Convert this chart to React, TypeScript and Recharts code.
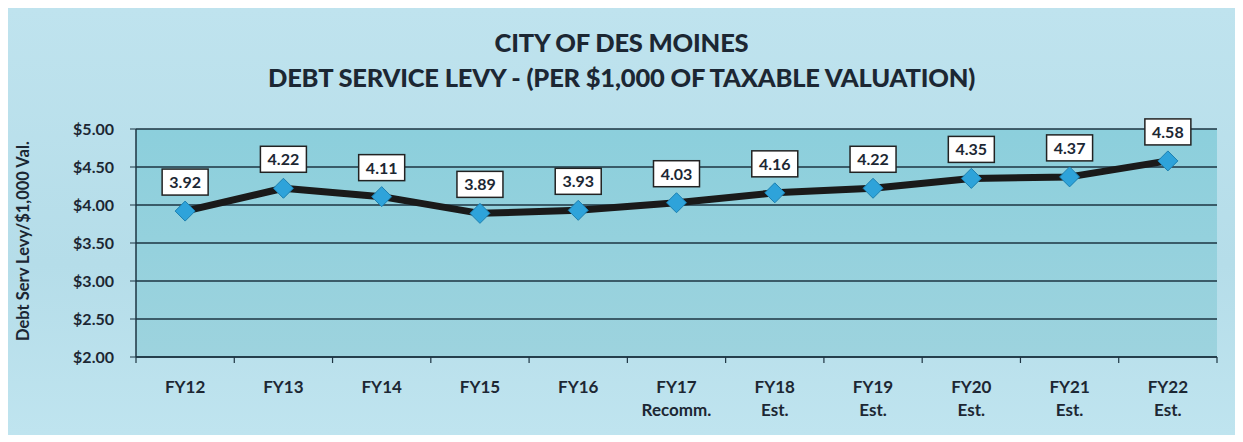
import { LineChart, Line, XAxis, YAxis, CartesianGrid, LabelList } from 'recharts';

const years = ['FY12', 'FY13', 'FY14', 'FY15', 'FY16', 'FY17', 'FY18', 'FY19', 'FY20', 'FY21', 'FY22'];
const subLabels = ['', '', '', '', '', 'Recomm.', 'Est.', 'Est.', 'Est.', 'Est.', 'Est.'];
const levy = [3.92, 4.22, 4.11, 3.89, 3.93, 4.03, 4.16, 4.22, 4.35, 4.37, 4.58];
const yTicks = [2, 2.5, 3, 3.5, 4, 4.5, 5];

const data = years.map((y, i) => ({ year: y, sub: subLabels[i], levy: levy[i] }));

const FONT = 'Lato, "Open Sans", sans-serif';
const INK = '#1c2733';
const AXIS = '#1d3442';

const CHART_W = 1227;
const MARGIN_L = 68;
const MARGIN_R = 18;
const Y_W = 60;
const HALF_STEP = (CHART_W - MARGIN_L - MARGIN_R - Y_W) / years.length / 2;

const XTick = (props: any) => {
  const { x, y, payload, index } = props;
  const last = index === years.length - 1;
  return (
    <g>
      <line x1={x - HALF_STEP} x2={x - HALF_STEP} y1={y - 8} y2={y - 2} stroke={AXIS} strokeWidth={1.2} />
      {last ? <line x1={x + HALF_STEP} x2={x + HALF_STEP} y1={y - 8} y2={y - 2} stroke={AXIS} strokeWidth={1.2} /> : null}
      <text x={x} y={y + 28} textAnchor="middle" fontFamily={FONT} fontWeight={700} fontSize={17} fill={INK}>
        <tspan x={x} dy={0}>{payload.value}</tspan>
        {subLabels[index] ? <tspan x={x} dy={23}>{subLabels[index]}</tspan> : null}
      </text>
    </g>
  );
};

const Diamond = (props: any) => {
  const { cx, cy } = props;
  if (cx == null || cy == null) return null;
  const r = 10;
  return (
    <path
      d={`M${cx},${cy - r} L${cx + r},${cy} L${cx},${cy + r} L${cx - r},${cy} Z`}
      fill="#2ea3da"
      stroke="#1b7fb0"
      strokeWidth={1}
    />
  );
};

const ValueBox = (props: any) => {
  const { x, y, value } = props;
  const w = 46;
  const h = 26;
  const top = y - 42;
  return (
    <g>
      <rect x={x - w / 2} y={top} width={w} height={h} fill="#ffffff" stroke="#222" strokeWidth={1.5} />
      <text x={x} y={top + 19} textAnchor="middle" fontFamily={FONT} fontWeight={700} fontSize={16} fill={INK}>
        {value.toFixed(2)}
      </text>
    </g>
  );
};

export default function App() {
  return (
    <div
      style={{
        width: CHART_W,
        height: 427,
        background: 'linear-gradient(180deg, #bfe3ee 0%, #b5dde9 60%, #bfe4ef 100%)',
        position: 'relative',
        fontFamily: FONT,
      }}
    >
      <div
        style={{
          position: 'absolute',
          top: 17,
          left: 0,
          width: CHART_W,
          textAlign: 'center',
          fontWeight: 900,
          fontSize: 25.5,
          lineHeight: '35px',
          color: INK,
          letterSpacing: -0.2,
        }}
      >
        <div>CITY OF DES MOINES</div>
        <div>DEBT SERVICE LEVY - (PER $1,000 OF TAXABLE VALUATION)</div>
      </div>
      <div style={{ position: 'absolute', left: 15, top: 233, width: 0, height: 0 }}>
        <div
          style={{
            position: 'absolute',
            left: 0,
            top: 0,
            transform: 'translate(-50%, -50%) rotate(-90deg)',
            whiteSpace: 'nowrap',
            fontWeight: 700,
            fontSize: 16.5,
            color: INK,
          }}
        >
          Debt Serv Levy/$1,000 Val.
        </div>
      </div>
      <LineChart
        width={CHART_W}
        height={427}
        data={data}
        margin={{ top: 121, right: MARGIN_R, bottom: 10, left: MARGIN_L }}
        style={{ position: 'absolute', left: 0, top: 0 }}
      >
        <defs>
          <linearGradient id="plotBg" x1="0" y1="0" x2="0" y2="1">
            <stop offset="0%" stopColor="#8ccfdc" />
            <stop offset="100%" stopColor="#9dd3de" />
          </linearGradient>
        </defs>
        <CartesianGrid vertical={false} stroke={AXIS} strokeWidth={1.5} fill="url(#plotBg)" fillOpacity={1} />
        <XAxis
          dataKey="year"
          height={68}
          tick={<XTick />}
          tickLine={false}
          axisLine={{ stroke: AXIS, strokeWidth: 1.5 }}
          interval={0}
          padding={{ left: HALF_STEP, right: HALF_STEP }}
        />
        <YAxis
          yAxisId={0}
          width={Y_W}
          domain={[2, 5]}
          ticks={yTicks}
          tickFormatter={(v: number) => `$${v.toFixed(2)}`}
          tick={{ fontFamily: FONT, fontWeight: 700, fontSize: 16, fill: INK }}
          tickLine={{ stroke: AXIS }}
          tickSize={6}
          tickMargin={16}
          axisLine={{ stroke: AXIS, strokeWidth: 1.5 }}
        />
        <YAxis
          yAxisId="r"
          orientation="right"
          width={0}
          domain={[2, 5]}
          tick={false}
          tickLine={false}
          axisLine={{ stroke: AXIS, strokeWidth: 1.5 }}
        />
        <Line
          type="linear"
          dataKey="levy"
          stroke="#1a1a1a"
          strokeWidth={7}
          strokeLinejoin="round"
          dot={<Diamond />}
          activeDot={false}
          isAnimationActive={false}
        >
          <LabelList dataKey="levy" content={<ValueBox />} />
        </Line>
      </LineChart>
    </div>
  );
}
